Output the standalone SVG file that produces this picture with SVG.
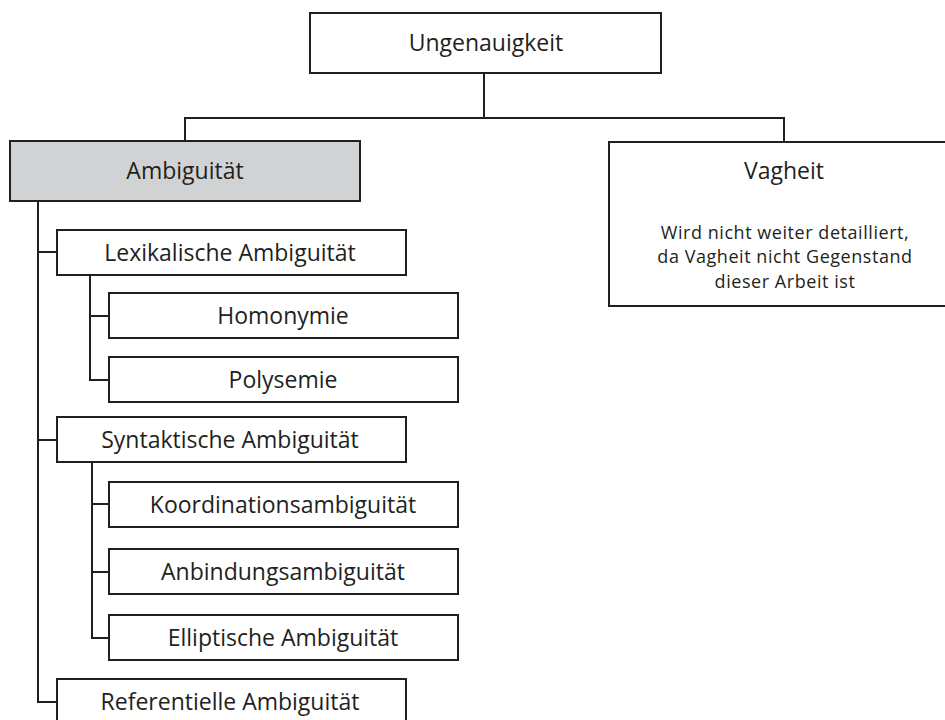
<svg xmlns="http://www.w3.org/2000/svg" width="945" height="720" viewBox="0 0 945 720">
  <style>
    .box { fill: #ffffff; stroke: #231f20; stroke-width: 2; }
    .box.shaded { fill: #d1d2d4; }
    .lbl { font-family: "Open Sans", "Noto Sans", sans-serif; font-size: 23px; fill: #231f20; text-anchor: middle; }
    .note { font-family: "Open Sans", "Noto Sans", sans-serif; font-size: 18px; letter-spacing: 0.55px; fill: #231f20; text-anchor: middle; }
    .conn { fill: none; stroke: #231f20; stroke-width: 2; }
  </style>
  <rect width="945" height="720" fill="#ffffff"/>

  <g id="connectors">
    <path class="conn" d="M484 73 V118"/>
    <path class="conn" d="M185 141 V118 H784 V141"/>
    <path class="conn" d="M38 201 V702 H57"/>
    <path class="conn" d="M38 252 H57"/>
    <path class="conn" d="M38 440 H57"/>
    <path class="conn" d="M90 275 V380 H109"/>
    <path class="conn" d="M90 316 H109"/>
    <path class="conn" d="M92 462 V638 H109"/>
    <path class="conn" d="M92 504 H109"/>
    <path class="conn" d="M92 572 H109"/>
  </g>

  <g id="ungenauigkeit">
    <rect class="box" x="310" y="13" width="351" height="60"/>
    <text class="lbl" x="486" y="51">Ungenauigkeit</text>
  </g>

  <g id="ambiguitaet">
    <rect class="box shaded" x="10" y="141" width="350" height="60"/>
    <text class="lbl" x="185" y="179">Ambiguität</text>
  </g>

  <g id="vagheit">
    <rect class="box" x="609" y="142" width="352" height="164"/>
    <text class="lbl" x="784" y="179">Vagheit</text>
    <text class="note" x="785" y="238.5">Wird nicht weiter detailliert,</text>
    <text class="note" x="785" y="263">da Vagheit nicht Gegenstand</text>
    <text class="note" x="785" y="287.5">dieser Arbeit ist</text>
  </g>

  <g id="lexikalisch">
    <rect class="box" x="57" y="230" width="349" height="45"/>
    <text class="lbl" x="230" y="261">Lexikalische Ambiguität</text>
  </g>

  <g id="homonymie">
    <rect class="box" x="109" y="293" width="349" height="45"/>
    <text class="lbl" x="283" y="324">Homonymie</text>
  </g>

  <g id="polysemie">
    <rect class="box" x="109" y="357" width="349" height="45"/>
    <text class="lbl" x="283" y="388">Polysemie</text>
  </g>

  <g id="syntaktisch">
    <rect class="box" x="57" y="417" width="349" height="45"/>
    <text class="lbl" x="230" y="448">Syntaktische Ambiguität</text>
  </g>

  <g id="koordination">
    <rect class="box" x="109" y="482" width="349" height="45"/>
    <text class="lbl" x="283" y="513">Koordinationsambiguität</text>
  </g>

  <g id="anbindung">
    <rect class="box" x="109" y="549" width="349" height="45"/>
    <text class="lbl" x="283" y="580">Anbindungsambiguität</text>
  </g>

  <g id="elliptisch">
    <rect class="box" x="109" y="615" width="349" height="45"/>
    <text class="lbl" x="283" y="646">Elliptische Ambiguität</text>
  </g>

  <g id="referentiell">
    <rect class="box" x="57" y="679" width="349" height="46"/>
    <text class="lbl" x="230" y="710">Referentielle Ambiguität</text>
  </g>
</svg>
